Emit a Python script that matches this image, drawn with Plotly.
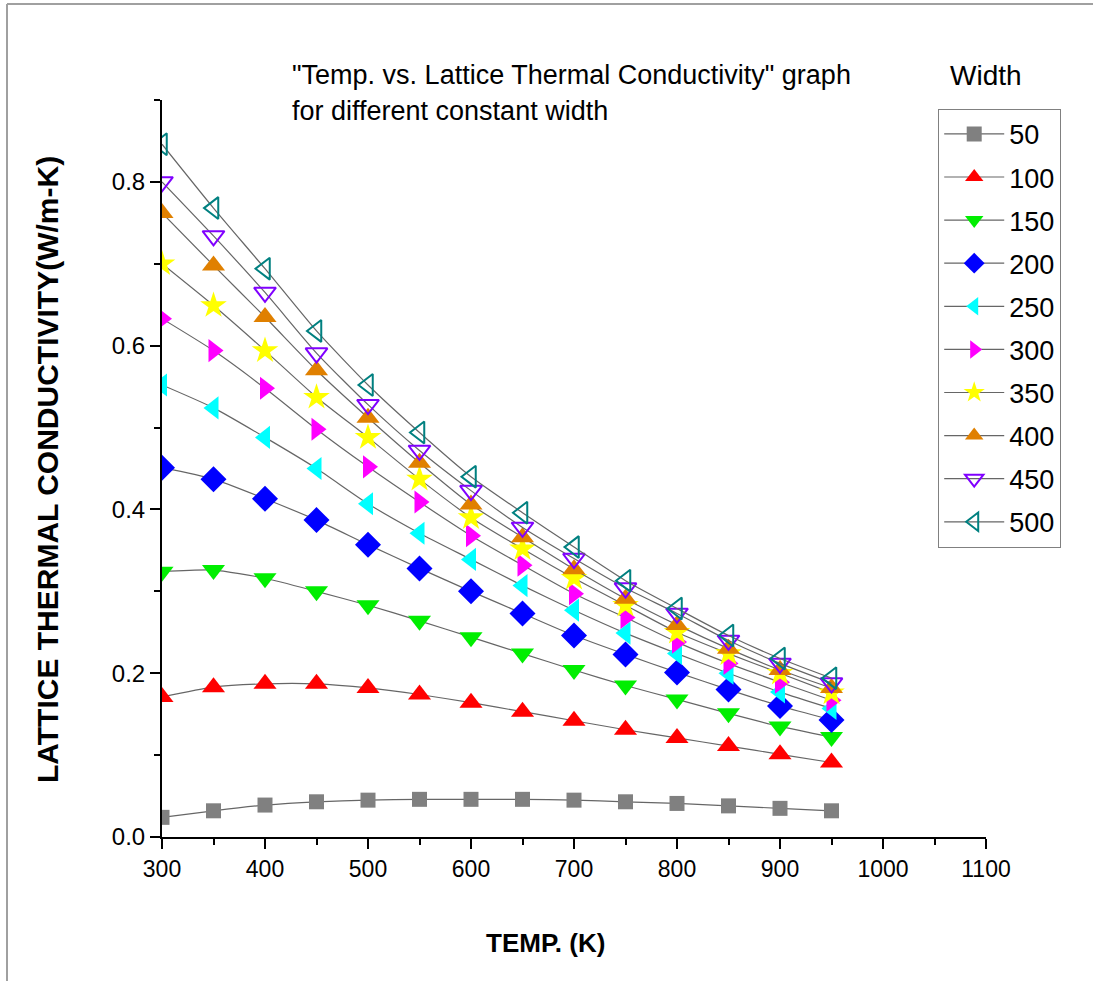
import plotly.graph_objects as go

temps = [300, 350, 400, 450, 500, 550, 600, 650, 700, 750, 800, 850, 900, 950]
widths = ["50", "100", "150", "200", "250", "300", "350", "400", "450", "500"]

k50 = [0.024, 0.032, 0.039, 0.043, 0.045, 0.046, 0.046, 0.046, 0.045, 0.043, 0.041, 0.038, 0.035, 0.032]
k100 = [0.171, 0.183, 0.187, 0.187, 0.182, 0.174, 0.164, 0.153, 0.142, 0.131, 0.121, 0.111, 0.101, 0.091]
k150 = [0.324, 0.326, 0.316, 0.300, 0.283, 0.264, 0.244, 0.224, 0.204, 0.185, 0.168, 0.151, 0.135, 0.122]
k200 = [0.451, 0.437, 0.413, 0.387, 0.357, 0.328, 0.300, 0.273, 0.246, 0.223, 0.201, 0.180, 0.160, 0.143]
k250 = [0.552, 0.524, 0.488, 0.450, 0.407, 0.371, 0.339, 0.307, 0.277, 0.249, 0.224, 0.200, 0.177, 0.157]
k300 = [0.633, 0.594, 0.548, 0.498, 0.452, 0.409, 0.368, 0.332, 0.297, 0.268, 0.238, 0.212, 0.189, 0.167]
k350 = [0.700, 0.649, 0.594, 0.537, 0.488, 0.437, 0.390, 0.352, 0.316, 0.283, 0.250, 0.224, 0.200, 0.176]
k400 = [0.762, 0.698, 0.635, 0.570, 0.512, 0.457, 0.406, 0.366, 0.327, 0.291, 0.259, 0.230, 0.204, 0.182]
k450 = [0.800, 0.734, 0.665, 0.591, 0.528, 0.472, 0.423, 0.378, 0.340, 0.304, 0.273, 0.240, 0.212, 0.188]
k500 = [0.846, 0.768, 0.694, 0.618, 0.552, 0.494, 0.440, 0.396, 0.354, 0.313, 0.279, 0.246, 0.218, 0.194]

series = [k50, k100, k150, k200, k250, k300, k350, k400, k450, k500]
colors = ["#808080", "#FF0000", "#00EE00", "#0000FF", "#00FFFF", "#FF00FF",
          "#FFFF00", "#E08000", "#8000FF", "#008080"]
symbols = ["square", "triangle-up", "triangle-down", "diamond", "triangle-left",
           "triangle-right", "star", "triangle-up", "triangle-down-open", "triangle-left-open"]
sizes = [15, 20, 20, 20, 20, 20, 20, 20, 19, 19]

fig = go.Figure()
for i, (name, ys) in enumerate(zip(widths, series)):
    open_sym = symbols[i].endswith("open")
    fig.add_trace(go.Scatter(
        x=temps, y=ys, name=name, mode="lines+markers",
        legendgroup="g" + name,
        line=dict(color="#666666", width=1.2, shape="spline", smoothing=0.6),
        marker=dict(symbol=symbols[i], size=sizes[i], color=colors[i],
                    line=dict(color=colors[i], width=2 if open_sym else 0)),
    ))

font_main = "Arial, Liberation Sans, sans-serif"

fig.update_layout(
    width=1093, height=981, autosize=False,
    margin=dict(l=162, r=107, t=100, b=144),
    paper_bgcolor="white", plot_bgcolor="white",
    font=dict(family=font_main, color="black"),
    showlegend=True,
    legend=dict(
        x=0.942, y=0.988, xanchor="left", yanchor="top",
        bordercolor="#808080", borderwidth=1, bgcolor="white",
        font=dict(size=27, family=font_main, color="black"),
        tracegroupgap=5, itemsizing="trace", itemwidth=60,
    ),
    xaxis=dict(
        range=[300, 1100], dtick=100, tick0=300,
        showgrid=False, zeroline=False,
        showline=True, linecolor="black", linewidth=2,
        ticks="outside", ticklen=10, tickwidth=2, tickcolor="black",
        tickfont=dict(size=23, family=font_main),
        minor=dict(dtick=50, tick0=300, ticks="outside", ticklen=6, tickwidth=2, tickcolor="black", showgrid=False),
    ),
    yaxis=dict(
        range=[0, 0.9], dtick=0.2, tick0=0, tickformat=".1f",
        showgrid=False, zeroline=False,
        showline=True, linecolor="black", linewidth=2,
        ticks="outside", ticklen=10, tickwidth=2, tickcolor="black",
        tickfont=dict(size=24, family=font_main),
        minor=dict(dtick=0.1, tick0=0, ticks="outside", ticklen=6, tickwidth=2, tickcolor="black", showgrid=False),
    ),
    annotations=[
        dict(text="\"Temp. vs. Lattice Thermal Conductivity\" graph",
             xref="paper", yref="paper", x=(290 - 162) / 824, y=(837 - 75) / 737,
             xanchor="left", yanchor="middle", align="left", showarrow=False,
             font=dict(size=27, family=font_main, color="black")),
        dict(text="for different constant width",
             xref="paper", yref="paper", x=(290 - 162) / 824, y=(837 - 111) / 737,
             xanchor="left", yanchor="middle", align="left", showarrow=False,
             font=dict(size=27, family=font_main, color="black")),
        dict(text="Width", xref="paper", yref="paper", x=(986 - 162) / 824, y=(837 - 75) / 737,
             xanchor="center", yanchor="middle", showarrow=False,
             font=dict(size=28, family=font_main, color="black")),
        dict(text="<b>TEMP. (K)</b>", xref="paper", yref="paper", x=(545 - 162) / 824, y=(837 - 943) / 737,
             xanchor="center", yanchor="middle", showarrow=False,
             font=dict(size=26, family=font_main, color="black")),
        dict(text="<b>LATTICE THERMAL CONDUCTIVITY(W/m-K)</b>", xref="paper", yref="paper",
             x=(48 - 162) / 824, y=(837 - 470) / 737, textangle=-90,
             xanchor="center", yanchor="middle", showarrow=False,
             font=dict(size=30, family=font_main, color="black")),
    ],
    shapes=[
        dict(type="line", xref="paper", yref="paper", x0=(7 - 162) / 824, x1=(1093 - 162) / 824,
             y0=(837 - 4) / 737, y1=(837 - 4) / 737, line=dict(color="#A0A0A0", width=2)),
        dict(type="line", xref="paper", yref="paper", x0=(7 - 162) / 824, x1=(7 - 162) / 824,
             y0=(837 - 4) / 737, y1=(837 - 981) / 737, line=dict(color="#A0A0A0", width=2)),
    ],
)

fig.write_html("out.html", config={"displayModeBar": False},
               post_script="document.body.style.margin='0';")
